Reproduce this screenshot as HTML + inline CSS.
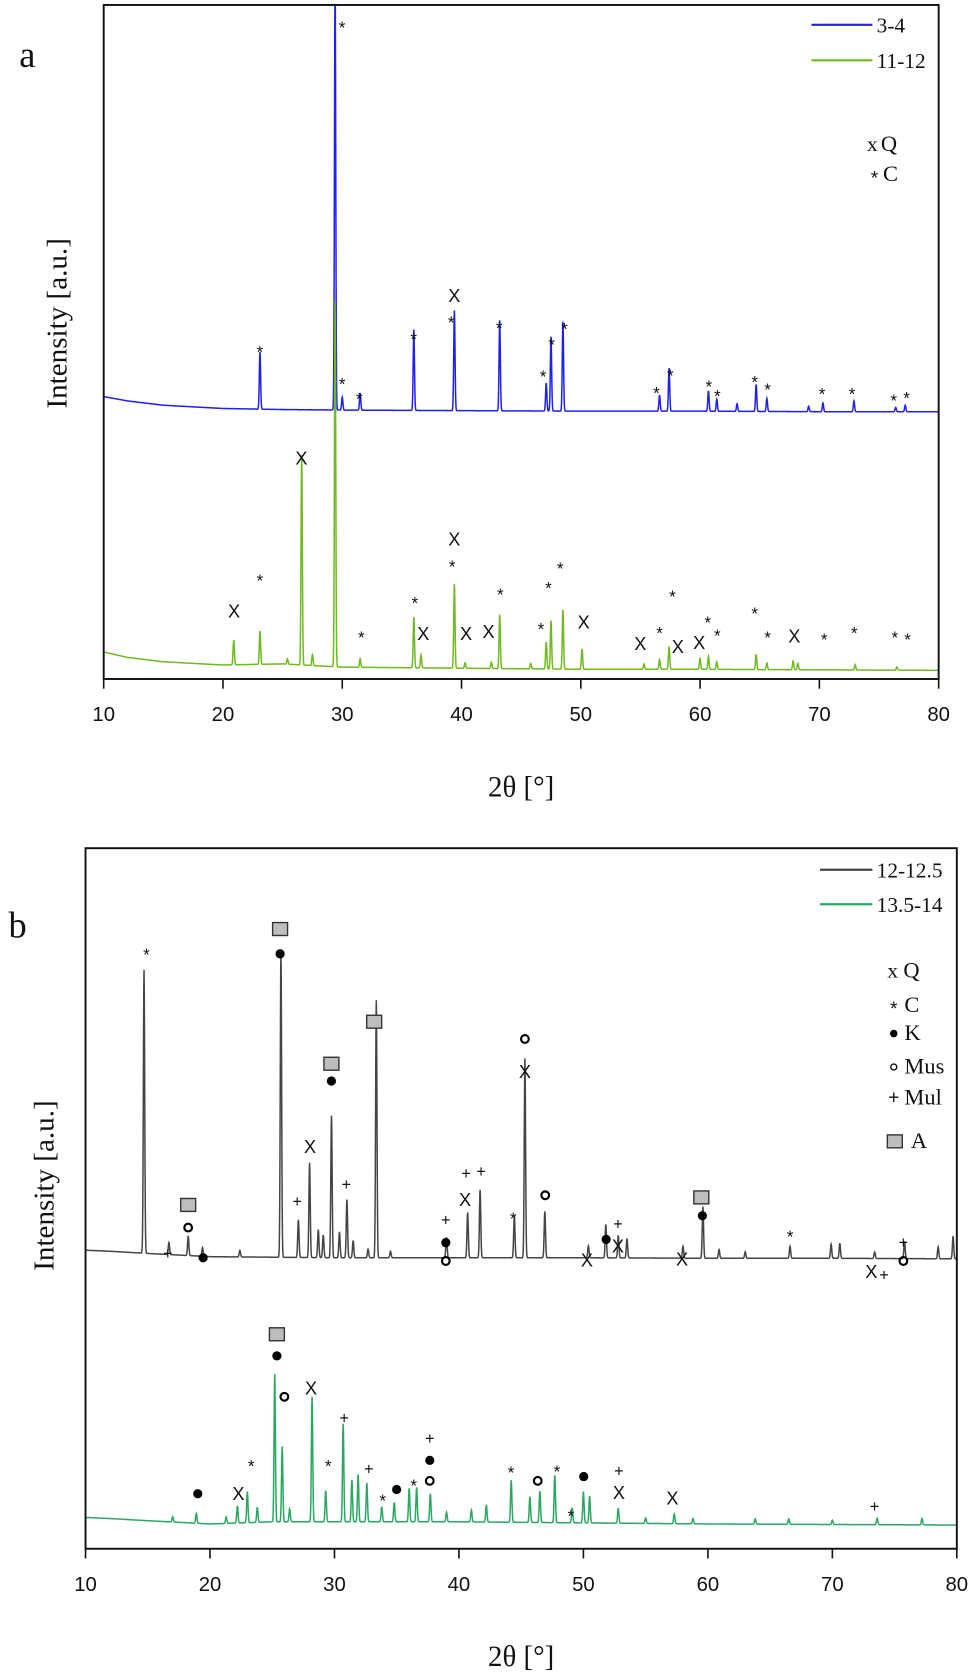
<!DOCTYPE html>
<html>
<head>
<meta charset="utf-8">
<style>
html,body{margin:0;padding:0;background:#fff;}
svg{display:block;}
text{font-family:"Liberation Serif",serif;fill:#111;}
.sym{font-family:"Liberation Sans",sans-serif;}
</style>
</head>
<body>
<svg id="chart" width="975" height="1677" viewBox="0 0 912 1556" preserveAspectRatio="none" xmlns="http://www.w3.org/2000/svg">
  <defs>
    <clipPath id="clipA"><rect x="97" y="4.6" width="781" height="625.4"/></clipPath>
    <clipPath id="clipB"><rect x="80" y="787" width="815" height="650"/></clipPath>
  </defs>
  <g id="panelA"></g>
  <g id="panelB"></g>
</svg>
<script>
// ---------- data ----------
const xTicks = [10,20,30,40,50,60,70,80];
const bgDeg = [10,12,15,20,25,30,40,50,60,70,80];

// Panel a, series 3-4 (blue)
const blueBg = [14,10,6,3,2,1.5,1,0.5,0.5,0,0];
const bluePos = [23.1,29.4,30.0,31.5,36.0,39.4,43.2,47.1,47.5,48.5,56.6,57.4,60.7,61.4,63.1,64.7,65.6,69.1,70.3,72.9,76.4,77.2];
const blueH   = [53,400,12,16,75,93,84,26,69,83,15,40,19,11,7,25,12,5,8,10,4,6];

// Panel a, series 11-12 (green)
const greenABg = [17,12,8,5,6,3,2,1,1,0.5,0];
const greenAPos = [20.9,23.1,25.4,26.6,27.5,29.4,31.5,36.0,36.6,39.4,40.3,42.5,43.2,45.8,47.1,47.5,48.5,50.1,55.3,56.6,57.4,60.0,60.7,61.4,64.7,65.6,67.8,68.2,73.0,76.5];
const greenAH   = [23,31,5,195,10,339,8,47,12,78,5,6,50,5,25,45,55,19,5,9,21,10,12,7,14,6,8,6,5,3];

// Panel b, series 12-12.5 (dark grey)
const darkBg = [8,7,5,2,1.5,1,1,1,0.5,0.5,0];
const darkPos = [14.7,16.7,18.25,19.4,22.4,25.7,27.1,28.0,28.7,29.1,29.76,30.4,31.0,31.5,32.7,33.36,34.5,39.0,40.7,41.7,44.45,45.3,46.9,50.4,51.8,52.8,53.5,58.0,59.6,60.9,63.0,66.6,69.9,70.6,73.4,75.8,78.5,79.7];
const darkH   = [263,11,18,8,6,284,35,88,26,21,132,24,54,16,8,239,6,19,42,63,39,185,43,11,31,21,18,11,48,8,6,11,13,14,6,16,11,21];

// Panel b, series 13.5-14 (green)
const greenBBg = [8,7,5,2,4,4,4,3,2,1.5,1];
const greenBPos = [17.0,18.9,21.3,22.2,23.0,23.8,25.2,25.8,26.4,28.2,29.3,30.7,31.4,31.9,32.6,33.8,34.8,36.0,36.6,37.7,39.0,41.0,42.2,44.2,45.7,46.5,47.7,49.1,50.0,50.5,52.8,55.0,57.3,58.8,63.8,66.5,70.0,73.6,77.2];
const greenBH   = [5,9,6,16,29,14,137,70,12,116,29,91,39,44,36,14,18,31,32,26,9,11,16,39,24,29,44,14,29,25,14,5,9,5,5,5,4,6,6];

// annotation glyphs (x, y in figure units, symbol)
const annA = [
 [243,323,'*'],[320,22,'*'],[320,353,'*'],[336,367,'*'],[387,311,'*'],[425,274,'x'],[422,296,'*'],[467,301,'*'],[508,346,'*'],[516,316,'*'],[528,302,'*'],[614,361,'*'],[627,345,'*'],[663,355,'*'],[671,364,'*'],[706,351,'*'],[718,358,'*'],[769,362,'*'],[797,362,'*'],[836,368,'*'],[848,366,'*'],
 [219,567,'x'],[243,535,'*'],[282,425,'x'],[338,588,'*'],[388,556,'*'],[396,588,'x'],[425,500,'x'],[423,522,'*'],[436,588,'x'],[457,586,'x'],[468,548,'*'],[506,580,'*'],[513,542,'*'],[524,524,'*'],[546,577,'x'],[599,597,'x'],[617,584,'*'],[629,550,'*'],[634,600,'x'],[654,596,'x'],[662,574,'*'],[671,586,'*'],[706,566,'*'],[718,588,'*'],[743,590,'x'],[771,590,'*'],[799,584,'*'],[837,588,'*'],[849,590,'*']
];
const annB = [
 [137,882,'*'],[262,862,'sq'],[262,885,'dot'],[176,1118,'sq'],[176,1139,'o'],[157,1163,'+'],[190,1167,'dot'],[278,1115,'+'],[290,1064,'x'],[310,987,'sq'],[310,1003,'dot'],[324,1099,'+'],[350,948,'sq'],[417,1132,'+'],[417,1153,'dot'],[417,1170,'o'],[435,1113,'x'],[436,1089,'+'],[450,1087,'+'],[480,1127,'*'],[491,964,'o'],[491,994,'x'],[510,1109,'o'],[549,1169,'x'],[567,1150,'dot'],[578,1136,'+'],[578,1156,'x'],[638,1168,'x'],[656,1111,'sq'],[657,1128,'dot'],[739,1144,'*'],[815,1180,'x'],[827,1183,'+'],[845,1170,'o'],[845,1153,'+'],
 [259,1238,'sq'],[259,1258,'dot'],[266,1296,'o'],[291,1288,'x'],[235,1357,'*'],[223,1386,'x'],[185,1386,'dot'],[307,1357,'*'],[322,1316,'+'],[345,1363,'+'],[358,1389,'*'],[371,1382,'dot'],[387,1375,'*'],[402,1335,'+'],[402,1355,'dot'],[402,1374,'o'],[478,1363,'*'],[503,1374,'o'],[521,1362,'*'],[534,1403,'*'],[546,1370,'dot'],[579,1365,'+'],[579,1385,'x'],[629,1390,'x'],[818,1398,'+']
];

// ---------- drawing ----------
const NS = "http://www.w3.org/2000/svg";
function mk(tag, attrs, parent){
  const e = document.createElementNS(NS, tag);
  for (const k in attrs) e.setAttribute(k, attrs[k]);
  parent.appendChild(e);
  return e;
}
function bgAt(bg, d){
  for (let i=0;i<bgDeg.length-1;i++){
    if (d>=bgDeg[i] && d<=bgDeg[i+1]){
      const t=(d-bgDeg[i])/(bgDeg[i+1]-bgDeg[i]);
      return bg[i]+(bg[i+1]-bg[i])*t;
    }
  }
  return bg[bg.length-1];
}
function profile(bg,pos,h,d){
  let v = bgAt(bg,d);
  for (let i=0;i<pos.length;i++){
    const z=(d-pos[i])/0.075;
    if (Math.abs(z)<6) v += h[i]*Math.exp(-z*z);
  }
  return v;
}
function makePanel(g, ax, series, ann, legend, phases, clipId){
  const xS = d => ax.x0 + (d-10)*(ax.x1-ax.x0)/70;
  // series
  series.forEach(s=>{
    let pts=[];
    for (let d=10; d<=80.0001; d+=0.02){
      const y = s.ref - profile(s.bg,s.pos,s.h,d);
      pts.push(xS(d).toFixed(2)+","+y.toFixed(2));
    }
    const p = mk('polyline',{points:pts.join(' '),fill:'none',stroke:s.color,'stroke-width':1.4,'clip-path':'url(#'+clipId+')'},g);
    
    
  });
  // frame
  const fr = mk('rect',{x:ax.x0,y:ax.y0,width:ax.x1-ax.x0,height:ax.y1-ax.y0,fill:'none',stroke:'#111','stroke-width':1.8},g);
  
  
  // ticks
  xTicks.forEach(t=>{
    const x=xS(t);
    const tk = mk('line',{x1:x,x2:x,y1:ax.y1,y2:ax.y1+9,stroke:'#111','stroke-width':1.5},g);
    
    
    const lb = mk('text',{x:x,y:ax.y1+39,'text-anchor':'middle','font-size':19,'class':'sym'},g);
    lb.textContent=t;
    
    
  });
  // axis titles
  const xt = mk('text',{x:(ax.x0+ax.x1)/2,y:ax.y1+109,'text-anchor':'middle','font-size':27},g);
  xt.textContent='2θ [°]';
  
  
  const yt = mk('text',{x:0,y:0,'text-anchor':'middle','font-size':27,transform:'translate('+ax.ytx+','+ax.yty+') rotate(-90)'},g);
  yt.textContent='Intensity [a.u.]';
  
  
  const pl = mk('text',{x:ax.lx,y:ax.ly,'font-size':34},g);
  pl.textContent=ax.label;
  
  
  // legend
  legend.forEach(L=>{
    const ln = mk('line',{x1:L.x1,x2:L.x2,y1:L.y,y2:L.y,stroke:L.color,'stroke-width':2},g);
    
    
    const lt = mk('text',{x:L.x2+4,y:L.y+7,'font-size':20},g);
    lt.textContent=L.text;
    
    
  });
  phases.forEach(P=>{
    drawSym(g,P.sx,P.y-6,P.sym,true);
    const t = mk('text',{x:P.tx,y:P.y,'font-size':21},g);
    t.textContent=P.text;
    
    
  });
  ann.forEach(a=>drawSym(g,a[0],a[1],a[2],false));
}
function drawSym(g,x,y,s,legend){
  let e;
  if (s==='x'){
    e = mk('text',{x:x,y:y+6,'text-anchor':'middle','font-size':legend?20:17,'class':legend?'':'sym'},g);
    e.textContent = legend?'x':'X';
  } else if (s==='*'){
    e = mk('text',{x:x,y:y+9,'text-anchor':'middle','font-size':legend?18:16,'class':'sym'},g);
    e.textContent='*';
  } else if (s==='+'){
    e = mk('text',{x:x,y:y+5,'text-anchor':'middle','font-size':legend?18:15,'class':'sym'},g);
    e.textContent='+';
  } else if (s==='dot'){
    e = mk('circle',{cx:x,cy:y,r:legend?3.5:4.3,fill:'#000'},g);
  } else if (s==='o'){
    e = mk('circle',{cx:x,cy:y,r:legend?2.8:3.6,fill:'none',stroke:'#000','stroke-width':legend?1.2:2},g);
  } else if (s==='sq'){
    e = mk('rect',{x:x-7,y:y-6,width:14,height:12,fill:'#bdbdbd',stroke:'#333','stroke-width':1.3},g);
  }
  
  
}

makePanel(document.getElementById('panelA'),
  {x0:97,x1:878,y0:4.6,y1:630,ytx:62,yty:300,lx:18,ly:62,label:'a'},
  [{name:'series-3-4',color:'#1f1fee',ref:382,bg:blueBg,pos:bluePos,h:blueH},
   {name:'series-11-12',color:'#6dbb1f',ref:622,bg:greenABg,pos:greenAPos,h:greenAH}],
  annA,
  [{x1:759,x2:816,y:23,color:'#1f1fee',text:'3-4'},
   {x1:759,x2:816,y:56,color:'#6dbb1f',text:'11-12'}],
  [{sx:816,tx:824,y:140,sym:'x',text:'Q'},{sx:818,tx:826,y:168,sym:'*',text:'C'}],
  'clipA');

makePanel(document.getElementById('panelB'),
  {x0:80,x1:895,y0:787,y1:1437,ytx:50,yty:1100,lx:8,ly:870,label:'b'},
  [{name:'series-12-12.5',color:'#454545',ref:1168,bg:darkBg,pos:darkPos,h:darkH},
   {name:'series-13.5-14',color:'#2aa862',ref:1416,bg:greenBBg,pos:greenBPos,h:greenBH}],
  annB,
  [{x1:767,x2:816,y:807,color:'#454545',text:'12-12.5'},
   {x1:767,x2:816,y:839,color:'#2aa862',text:'13.5-14'}],
  [{sx:835,tx:845,y:907,sym:'x',text:'Q'},{sx:836,tx:846,y:939,sym:'*',text:'C'},
   {sx:836,tx:846,y:965,sym:'dot',text:'K'},{sx:836,tx:846,y:996,sym:'o',text:'Mus'},
   {sx:836,tx:846,y:1025,sym:'+',text:'Mul'},{sx:837,tx:852,y:1065,sym:'sq',text:'A'}],
  'clipB');
</script>
</body>
</html>
